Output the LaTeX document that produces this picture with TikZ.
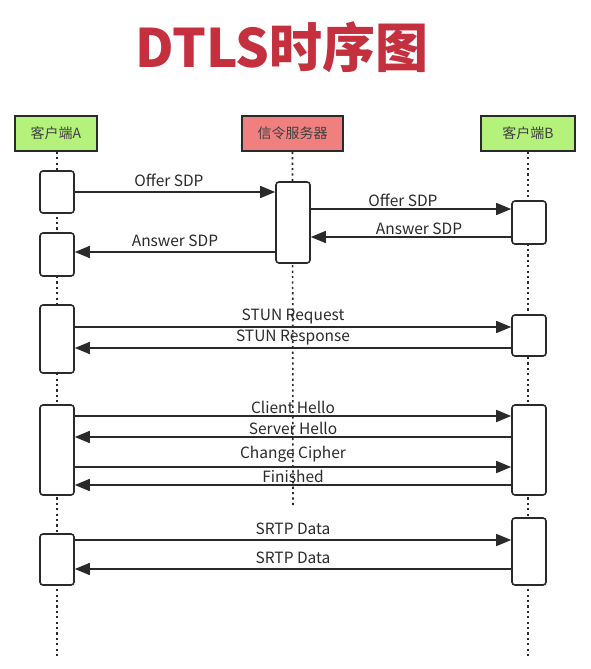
\documentclass[tikz,border=0pt]{standalone}
\usepackage{fontspec}
\setmainfont{Noto Sans CJK SC}
\newfontfamily\cjk{Noto Sans CJK SC}
\usetikzlibrary{arrows.meta}
\definecolor{hdrgreen}{HTML}{B5F27C}
\definecolor{hdrred}{HTML}{F08080}
\definecolor{titlered}{HTML}{C4303E}
\definecolor{ink}{HTML}{2A2A2A}
\tikzset{
  hdr/.style={draw=ink, line width=1.6pt, minimum height=35pt, inner sep=0pt, font=\cjk\fontsize{14}{15}\selectfont, text=ink!90},
  act/.style={draw=ink, fill=white, line width=1.6pt, rounded corners=3pt, minimum width=34pt, inner sep=0pt},
  life/.style={ink, line width=1.6pt, dash pattern=on 2.2pt off 3.2pt},
  msg/.style={ink, line width=1.6pt, -{Triangle[length=15pt,width=12pt]}},
  lbl/.style={font=\cjk\fontsize{15.5}{16}\selectfont, text=ink, inner sep=0pt, anchor=south},
}
\begin{document}
\begin{tikzpicture}[x=1pt,y=-1pt]
\useasboundingbox[fill=white] (0,0) rectangle (591,669);
\node[font=\cjk\bfseries\fontsize{53}{55}\selectfont, text=titlered] (title) at (282,47) {DTLS时序图};
% headers
\node[hdr, fill=hdrgreen, minimum width=82pt] (hA) at (56,133.5) {客户端A};
\node[hdr, fill=hdrred, minimum width=101pt] (hS) at (292.5,133.5) {信令服务器};
\node[hdr, fill=hdrgreen, minimum width=94pt] (hB) at (528,133.5) {客户端B};
% lifelines
\coordinate (eA) at (57,658);
\coordinate (eS) at (293,505);
\coordinate (eB) at (528,658);
\draw[life] (hA.south -| 57,0) -- (eA);
\draw[life] (hS.south) -- (eS);
\draw[life] (hB.south) -- (eB);
% activations A
\node[act, minimum height=42pt] (a1) at (57,192) {};
\node[act, minimum height=43pt] (a2) at (57,254.5) {};
\node[act, minimum height=68pt] (a3) at (57,339) {};
\node[act, minimum height=90pt] (a4) at (57,450) {};
\node[act, minimum height=51pt] (a5) at (57,559.5) {};
% server
\node[act, minimum height=81pt] (s1) at (293,222.5) {};
% activations B
\node[act, minimum height=43pt] (b1) at (529,222.5) {};
\node[act, minimum height=41pt] (b2) at (529,335.5) {};
\node[act, minimum height=90pt] (b3) at (529,450) {};
\node[act, minimum height=67pt] (b4) at (529,551.5) {};
% messages
\draw[msg] (a1.east |- 0,192) -- (s1.west |- 0,192) node[lbl, pos=0.47, yshift=4pt] {Offer SDP};
\draw[msg] (s1.east |- 0,209) -- (b1.west |- 0,209) node[lbl, pos=0.46, yshift=2pt] {Offer SDP};
\draw[msg] (b1.west |- 0,237) -- (s1.east |- 0,237) node[lbl, pos=0.46, yshift=2pt] {Answer SDP};
\draw[msg] (s1.west |- 0,252) -- (a2.east |- 0,252) node[lbl, pos=0.5, yshift=5pt] {Answer SDP};
\draw[msg] (a3.east |- 0,327) -- (b2.west |- 0,327) node[lbl, pos=0.5, yshift=2pt] {STUN Request};
\draw[msg] (b2.west |- 0,348) -- (a3.east |- 0,348) node[lbl, pos=0.5, yshift=2pt] {STUN Response};
\draw[msg] (a4.east |- 0,416) -- (b3.west |- 0,416) node[lbl, pos=0.5, yshift=2pt] {Client Hello};
\draw[msg] (b3.west |- 0,437) -- (a4.east |- 0,437) node[lbl, pos=0.5, yshift=2pt] {Server Hello};
\draw[msg] (a4.east |- 0,467) -- (b3.west |- 0,467) node[lbl, pos=0.5, yshift=4pt] {Change Cipher};
\draw[msg] (b3.west |- 0,485) -- (a4.east |- 0,485) node[lbl, pos=0.5, yshift=2pt] {Finished};
\draw[msg] (a5.east |- 0,540) -- (b4.west |- 0,540) node[lbl, pos=0.5, yshift=5pt] {SRTP Data};
\draw[msg] (b4.west |- 0,569) -- (a5.east |- 0,569) node[lbl, pos=0.5, yshift=5pt] {SRTP Data};
\end{tikzpicture}
\end{document}
